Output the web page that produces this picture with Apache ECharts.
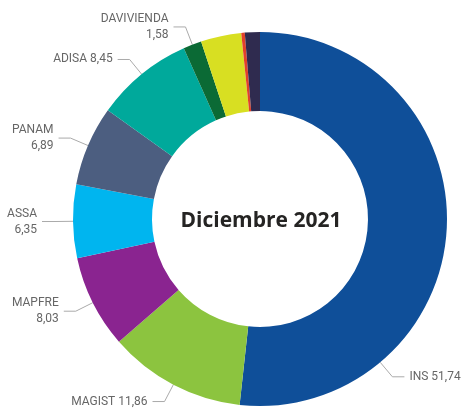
<!DOCTYPE html>
<html>
<head>
<meta charset="utf-8">
<script src="https://cdn.jsdelivr.net/npm/echarts@6/dist/echarts.min.js"></script>
<style>
  html, body { margin: 0; padding: 0; background: #fff; }
  #main { width: 468px; height: 413px; }
</style>
</head>
<body>
<div id="main"></div>
<script>
// datos del gráfico (participación %)
var names = ['INS', 'MAGIST', 'MAPFRE', 'ASSA', 'PANAM', 'ADISA', 'DAVIVIENDA', 'Otra 1', 'Otra 2', 'Otra 3'];
var values = [51.74, 11.86, 8.03, 6.35, 6.89, 8.45, 1.58, 3.5, 0.3, 1.3];
var colors = ['#0f4f99', '#8cc43f', '#8a2490', '#00b5ef', '#4c5e80', '#00a99b', '#0b6a35', '#d8df22', '#e2412b', '#2f2b4f'];
// etiquetas en dos renglones
var twoLines = ['MAPFRE', 'ASSA', 'PANAM', 'DAVIVIENDA'];
var hideLabel = ['Otra 1', 'Otra 2', 'Otra 3'];
var title = 'Diciembre 2021';

(function () {
  var myChart = echarts.init(document.getElementById('main'));
  var cx = 260, cy = 219, r0 = 108, r1 = 187;

  var data = names.map(function (n, i) {
    var item = { name: n, value: values[i], itemStyle: { color: colors[i] } };
    if (hideLabel.indexOf(n) >= 0) {
      item.label = { show: false };
      item.labelLine = { show: false };
    }
    return item;
  });

  var option = {
    animation: false,
    graphic: [{
      type: 'text',
      x: cx + 1,
      y: cy + 2,
      style: {
        text: title,
        font: 'bold 21px "Open Sans"',
        fill: '#252423',
        textAlign: 'center',
        textVerticalAlign: 'middle'
      }
    }],
    series: [{
      type: 'pie',
      center: [cx, cy],
      radius: [r0, r1],
      startAngle: 90,
      clockwise: true,
      avoidLabelOverlap: false,
      data: data,
      label: {
        show: true,
        position: 'outside',
        fontFamily: 'Roboto',
        fontSize: 12,
        lineHeight: 16,
        color: '#666',
        formatter: function (p) {
          var v = p.value.toFixed(2).replace('.', ',');
          return twoLines.indexOf(p.name) >= 0 ? p.name + '\n' + v : p.name + ' ' + v;
        }
      },
      labelLine: {
        show: true,
        length: 19,
        length2: 12,
        lineStyle: { color: '#aaa', width: 1 }
      },
      // INS: etiqueta abajo a la derecha
      labelLayout: function (params) {
        if (params.dataIndex !== 0) return {};
        var a = 50 * Math.PI / 180;
        var p0 = [cx + r1 * Math.cos(a), cy + r1 * Math.sin(a)];
        var p1 = [cx + (r1 + 19) * Math.cos(a), cy + (r1 + 19) * Math.sin(a)];
        var p2 = [p1[0] + 12, p1[1]];
        return {
          x: p2[0] + 5,
          y: p2[1],
          align: 'left',
          verticalAlign: 'middle',
          labelLinePoints: [p0, p1, p2]
        };
      }
    }]
  };
  myChart.setOption(option);
})();
</script>
</body>
</html>
